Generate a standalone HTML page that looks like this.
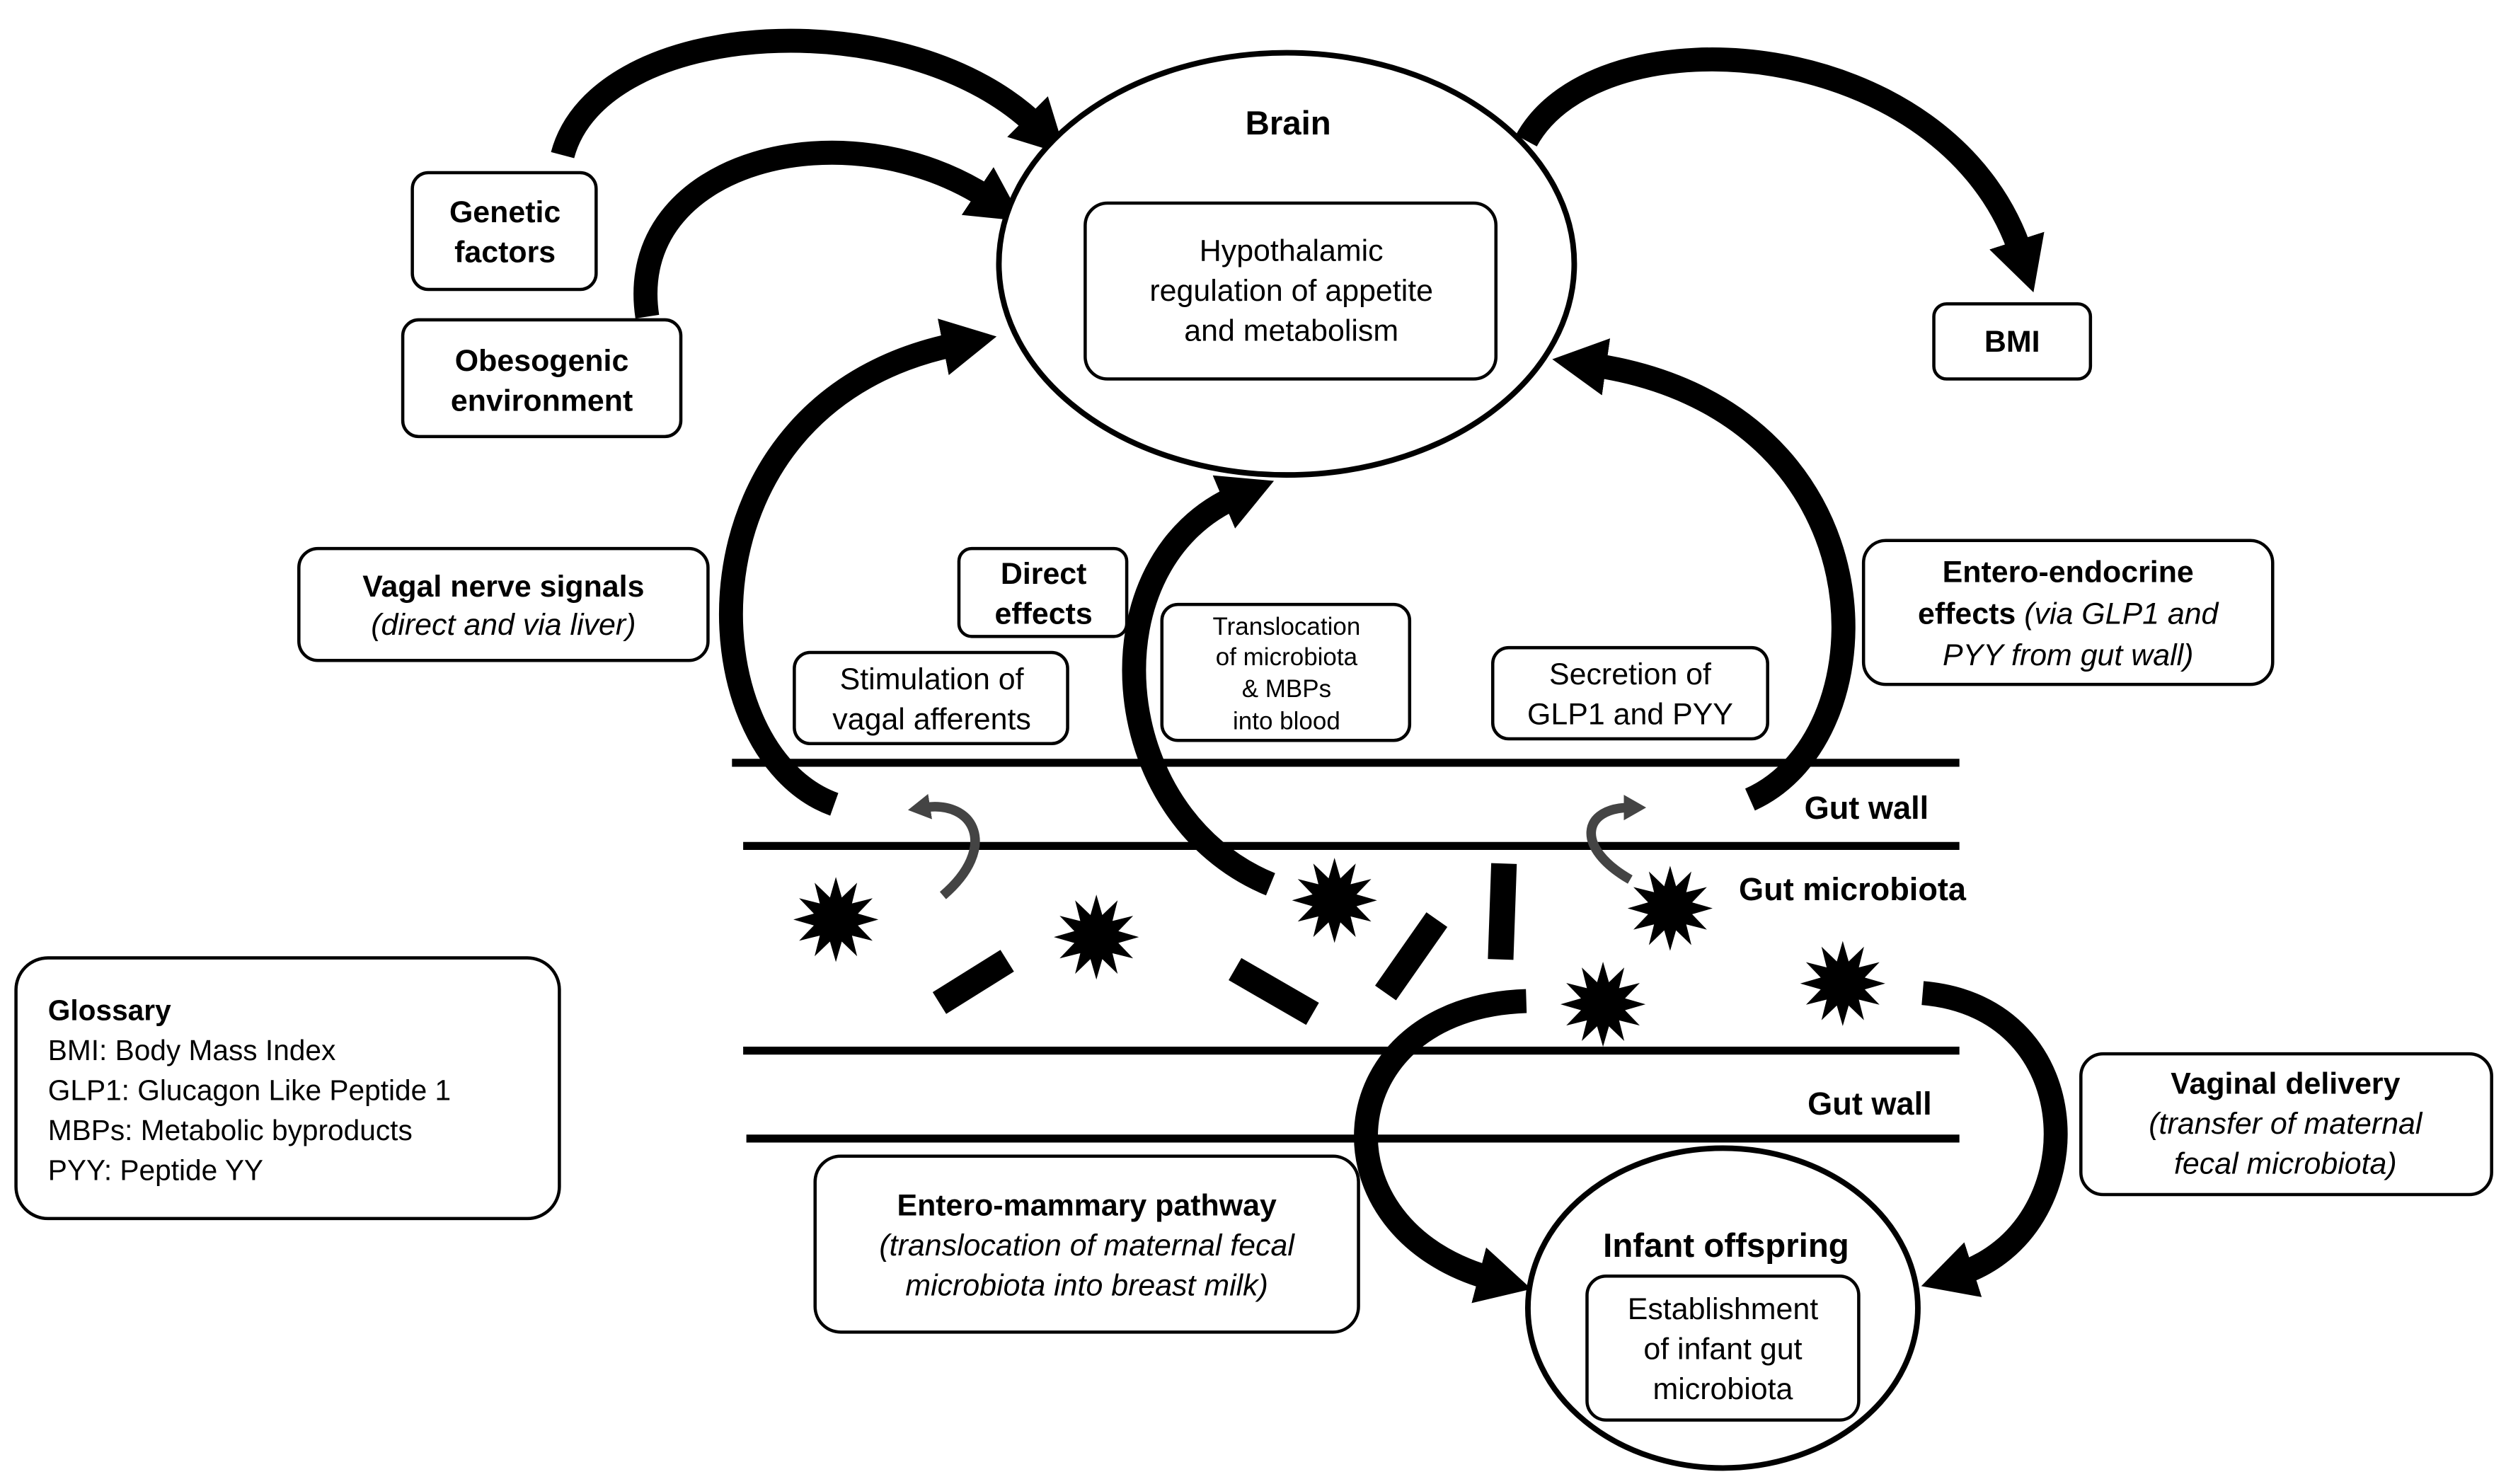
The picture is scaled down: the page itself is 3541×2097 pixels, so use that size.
<!DOCTYPE html>
<html><head><meta charset="utf-8"><style>
html,body{margin:0;padding:0;background:#fff;}
svg{display:block;}
text{font-family:"Liberation Sans",sans-serif;fill:#000;}
.b{font-weight:bold;}
</style></head><body>
<svg width="3541" height="2097" viewBox="0 0 1568 928" preserveAspectRatio="none" xmlns="http://www.w3.org/2000/svg">
<defs>
<marker id="ah" markerUnits="userSpaceOnUse" markerWidth="50" markerHeight="50" refX="10" refY="20" orient="auto">
<polygon points="0,2 34,20 0,38" fill="#000"/>
</marker>
<marker id="ag" markerUnits="userSpaceOnUse" markerWidth="20" markerHeight="20" refX="4" refY="8" orient="auto">
<polygon points="0,0 14,8 0,16" fill="#444"/>
</marker>
<polygon id="st" fill="#000" points="28,0 14.5,3.9 24.2,14 10.6,10.6 14,24.2 3.9,14.5 0,28 -3.9,14.5 -14,24.2 -10.6,10.6 -24.2,14 -14.5,3.9 -28,0 -14.5,-3.9 -24.2,-14 -10.6,-10.6 -14,-24.2 -3.9,-14.5 0,-28 3.9,-14.5 14,-24.2 10.6,-10.6 24.2,-14 14.5,-3.9"/>
</defs>
<rect width="1568" height="928" fill="#fff"/>

<!-- gut wall lines -->
<g stroke="#000" stroke-width="5">
<line x1="458" y1="477" x2="1226" y2="477"/>
<line x1="465" y1="529" x2="1226" y2="529"/>
<line x1="465" y1="657" x2="1226" y2="657"/>
<line x1="467" y1="712" x2="1226" y2="712"/>
</g>

<!-- big arrows -->
<g fill="none" stroke="#000" stroke-width="15" marker-end="url(#ah)">
<path d="M352,97 C375,10 570,0 650,80"/>
<path d="M405,198 C390,100 530,65 620,125"/>
<path d="M955,88 C1000,5 1220,20 1265,160"/>
<path d="M522,503 C430,470 420,250 600,215"/>
<path d="M795,553 C690,510 680,350 775,310"/>
<path d="M1095,500 C1185,460 1185,255 995,228"/>
<path d="M955,626 C830,630 820,770 935,800"/>
<path d="M1203,621 C1310,630 1310,770 1225,797"/>
</g>

<!-- small gray arrows -->
<g fill="none" stroke="#444" stroke-width="6" marker-end="url(#ag)">
<path d="M590,560 C625,530 610,500 578,505"/>
<path d="M1020,550 C985,530 990,505 1020,505"/>
</g>

<!-- stars -->
<use href="#st" transform="translate(523,575) scale(0.95)"/>
<use href="#st" transform="translate(686,586) scale(0.95)"/>
<use href="#st" transform="translate(835,563) scale(0.95)"/>
<use href="#st" transform="translate(1045,568) scale(0.95)"/>
<use href="#st" transform="translate(1003,628) scale(0.95)"/>
<use href="#st" transform="translate(1153,615) scale(0.95)"/>

<!-- dashes -->
<g fill="#000">
<rect x="-25" y="-8" width="50" height="16" transform="translate(609,614) rotate(-32)"/>
<rect x="-28" y="-8" width="56" height="16" transform="translate(797,620) rotate(30)"/>
<rect x="-28" y="-8" width="56" height="16" transform="translate(883,598) rotate(-55)"/>
<rect x="-30" y="-8" width="60" height="16" transform="translate(940,570) rotate(-88)"/>
</g>

<!-- Brain -->
<ellipse cx="805" cy="165" rx="180" ry="132" fill="#fff" stroke="#000" stroke-width="3.5"/>
<text x="806" y="84" font-size="21" class="b" text-anchor="middle">Brain</text>
<rect x="679" y="127" width="257" height="110" rx="14" fill="#fff" stroke="#000" stroke-width="2"/>
<g font-size="19" text-anchor="middle">
<text x="808" y="163">Hypothalamic</text>
<text x="808" y="188">regulation of appetite</text>
<text x="808" y="213">and metabolism</text>
</g>

<g fill="#fff" stroke="#000" stroke-width="2">
<rect x="258" y="108" width="115" height="73" rx="10"/>
<rect x="252" y="200" width="174" height="73" rx="10"/>
<rect x="1210" y="190" width="98" height="47" rx="8"/>
<rect x="187" y="343" width="256" height="70" rx="12"/>
<rect x="600" y="343" width="105" height="55" rx="8"/>
<rect x="497" y="408" width="171" height="57" rx="10"/>
<rect x="727" y="378" width="155" height="85" rx="10"/>
<rect x="934" y="405" width="172" height="57" rx="10"/>
<rect x="1166" y="338" width="256" height="90" rx="14"/>
<rect x="10" y="599" width="340" height="163" rx="20"/>
<rect x="1302" y="659" width="257" height="88" rx="14"/>
<rect x="510" y="723" width="340" height="110" rx="16"/>
</g>

<g font-size="19" text-anchor="middle">
<text x="316" y="139" class="b">Genetic</text>
<text x="316" y="164" class="b">factors</text>
<text x="339" y="232" class="b">Obesogenic</text>
<text x="339" y="257" class="b">environment</text>
<text x="1259" y="220" class="b">BMI</text>
<text x="315" y="373" class="b">Vagal nerve signals</text>
<text x="315" y="397" font-style="italic">(direct and via liver)</text>
<text x="653" y="365" class="b">Direct</text>
<text x="653" y="390" class="b">effects</text>
<text x="583" y="431">Stimulation of</text>
<text x="583" y="456">vagal afferents</text>
<text x="1020" y="428">Secretion of</text>
<text x="1020" y="453">GLP1 and PYY</text>
<text x="1294" y="364" class="b">Entero-endocrine</text>
<text x="1294" y="390"><tspan class="b">effects </tspan><tspan font-style="italic">(via GLP1 and</tspan></text>
<text x="1294" y="416" font-style="italic">PYY from gut wall)</text>
<text x="1430" y="684" class="b">Vaginal delivery</text>
<text x="1430" y="709" font-style="italic">(transfer of maternal</text>
<text x="1430" y="734" font-style="italic">fecal microbiota)</text>
<text x="680" y="760" class="b">Entero-mammary pathway</text>
<text x="680" y="785" font-style="italic">(translocation of maternal fecal</text>
<text x="680" y="810" font-style="italic">microbiota into breast milk)</text>
</g>
<g font-size="15.5" text-anchor="middle">
<text x="805" y="397">Translocation</text>
<text x="805" y="416">of microbiota</text>
<text x="805" y="436">&amp; MBPs</text>
<text x="805" y="456">into blood</text>
</g>

<g font-size="18">
<text x="30" y="638" class="b">Glossary</text>
<text x="30" y="663">BMI: Body Mass Index</text>
<text x="30" y="688">GLP1: Glucagon Like Peptide 1</text>
<text x="30" y="713">MBPs: Metabolic byproducts</text>
<text x="30" y="738">PYY: Peptide YY</text>
</g>

<g font-size="20" class="b">
<text x="1129" y="512">Gut wall</text>
<text x="1088" y="563">Gut microbiota</text>
<text x="1131" y="697">Gut wall</text>
</g>

<!-- Infant -->
<ellipse cx="1078" cy="818" rx="122" ry="100" fill="#fff" stroke="#000" stroke-width="3.5"/>
<text x="1080" y="786" font-size="21" class="b" text-anchor="middle">Infant offspring</text>
<rect x="993" y="798" width="170" height="90" rx="12" fill="#fff" stroke="#000" stroke-width="2"/>
<g font-size="19" text-anchor="middle">
<text x="1078" y="825">Establishment</text>
<text x="1078" y="850">of infant gut</text>
<text x="1078" y="875">microbiota</text>
</g>
</svg>
</body></html>
